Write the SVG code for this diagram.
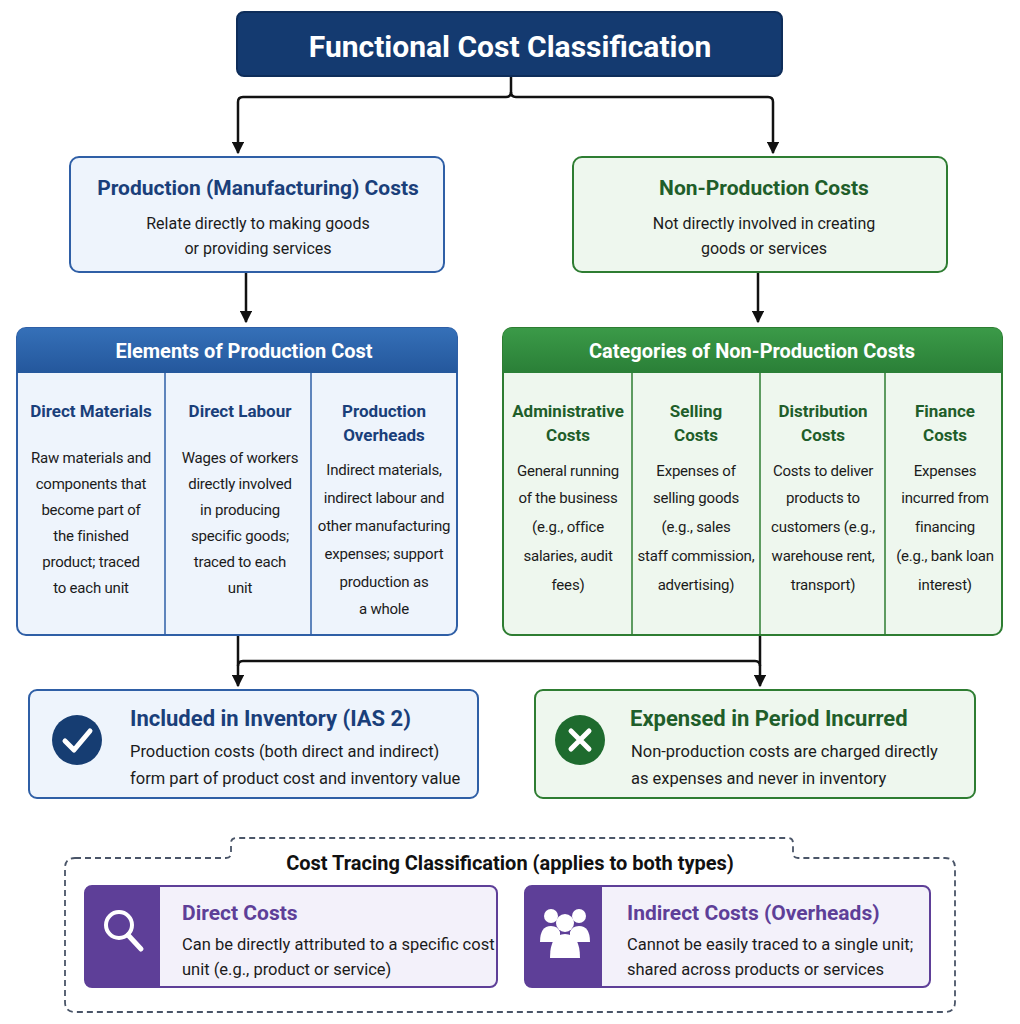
<svg xmlns="http://www.w3.org/2000/svg" width="1020" height="1024" viewBox="0 0 1020 1024">
<defs>
<style>
text{font-family:Roboto,"Liberation Sans",sans-serif;}
.t{font-weight:bold;text-anchor:middle;}
.b{font-size:16px;fill:#1b1b1b;text-anchor:middle;}
.s{font-size:15px;letter-spacing:-0.2px;}
.bl{font-size:16.5px;fill:#1b1b1b;}
.hb{font-size:17px;font-weight:bold;fill:#1a3f7a;text-anchor:middle;}
.hg{font-size:17px;font-weight:bold;fill:#1f5e2a;text-anchor:middle;}
.c{fill:none;stroke:#111;stroke-width:2.5;}
</style>
<marker id="a" viewBox="0 0 10 10" refX="9" refY="5" markerWidth="5" markerHeight="5" orient="auto"><path d="M0,0L10,5L0,10z" fill="#111"/></marker>
<linearGradient id="gb" x1="0" y1="0" x2="0" y2="1"><stop offset="0" stop-color="#3570b8"/><stop offset="1" stop-color="#24579c"/></linearGradient>
<linearGradient id="gg" x1="0" y1="0" x2="0" y2="1"><stop offset="0" stop-color="#3b9a48"/><stop offset="1" stop-color="#2a7f37"/></linearGradient>
</defs>
<rect width="1020" height="1024" fill="#ffffff"/>
<g id="connectors">
<path class="c" d="M511,76V92Q511,97 506,97H243Q238,97 238,102V153" marker-end="url(#a)"/>
<path class="c" d="M511,92Q511,97 516,97H768Q773,97 773,102V153" marker-end="url(#a)"/>
<path class="c" d="M246,272V322" marker-end="url(#a)"/>
<path class="c" d="M758,272V322" marker-end="url(#a)"/>
<path class="c" d="M238,635V686" marker-end="url(#a)"/>
<path class="c" d="M760,635V686" marker-end="url(#a)"/>
<path class="c" d="M238,666Q238,661 243,661H755Q760,661 760,666"/>
</g>
<g id="title">
<rect x="237" y="12" width="545" height="64" rx="7" fill="#143a70" stroke="#0e2d5a" stroke-width="2"/>
<text x="510" y="57" class="t" font-size="30" fill="#fff">Functional Cost Classification</text>
</g>
<g id="production">
<rect x="70" y="157" width="374" height="115" rx="9" fill="#eef4fc" stroke="#2f5fa6" stroke-width="2"/>
<text x="258" y="195" class="t" font-size="21" fill="#1a3f7a">Production (Manufacturing) Costs</text>
<text x="258" y="229" class="b" font-size="17">Relate directly to making goods</text>
<text x="258" y="254" class="b" font-size="17">or providing services</text>
</g>
<g id="nonproduction">
<rect x="573" y="157" width="374" height="115" rx="9" fill="#eef7ee" stroke="#2e7d32" stroke-width="2"/>
<text x="764" y="195" class="t" font-size="21" fill="#1f5e2a">Non-Production Costs</text>
<text x="764" y="229" class="b" font-size="17">Not directly involved in creating</text>
<text x="764" y="254" class="b" font-size="17">goods or services</text>
</g>
<g id="elements">
<rect x="17" y="328" width="440" height="307" rx="9" fill="#eef4fc" stroke="#2f5fa6" stroke-width="2"/>
<path d="M17,373V337Q17,328 26,328H448Q457,328 457,337V373Z" fill="url(#gb)"/>
<text x="244" y="358" class="t" font-size="20" fill="#fff">Elements of Production Cost</text>
<path d="M165,373V635M311,373V635" stroke="#2f5fa6" stroke-width="1.5"/>
<text x="91" y="417" class="hb">Direct Materials</text>
<text x="91" y="463" class="b s">Raw materials and</text>
<text x="91" y="489" class="b s">components that</text>
<text x="91" y="515" class="b s">become part of</text>
<text x="91" y="541" class="b s">the finished</text>
<text x="91" y="567" class="b s">product; traced</text>
<text x="91" y="593" class="b s">to each unit</text>
<text x="240" y="417" class="hb">Direct Labour</text>
<text x="240" y="463" class="b s">Wages of workers</text>
<text x="240" y="489" class="b s">directly involved</text>
<text x="240" y="515" class="b s">in producing</text>
<text x="240" y="541" class="b s">specific goods;</text>
<text x="240" y="567" class="b s">traced to each</text>
<text x="240" y="593" class="b s">unit</text>
<text x="384" y="417" class="hb">Production</text>
<text x="384" y="441" class="hb">Overheads</text>
<text x="384" y="475" class="b s">Indirect materials,</text>
<text x="384" y="503" class="b s">indirect labour and</text>
<text x="384" y="531" class="b s">other manufacturing</text>
<text x="384" y="559" class="b s">expenses; support</text>
<text x="384" y="587" class="b s">production as</text>
<text x="384" y="614" class="b s">a whole</text>
</g>
<g id="categories">
<rect x="503" y="328" width="499" height="307" rx="9" fill="#eef7ee" stroke="#2e7d32" stroke-width="2"/>
<path d="M503,373V337Q503,328 512,328H993Q1002,328 1002,337V373Z" fill="url(#gg)"/>
<text x="752" y="358" class="t" font-size="20" fill="#fff">Categories of Non-Production Costs</text>
<path d="M632,373V635M760,373V635M885,373V635" stroke="#2e7d32" stroke-width="1.5"/>
<text x="568" y="417" class="hg">Administrative</text>
<text x="568" y="441" class="hg">Costs</text>
<text x="568" y="476" class="b s">General running</text>
<text x="568" y="503" class="b s">of the business</text>
<text x="568" y="532" class="b s">(e.g., office</text>
<text x="568" y="561" class="b s">salaries, audit</text>
<text x="568" y="590" class="b s">fees)</text>
<text x="696" y="417" class="hg">Selling</text>
<text x="696" y="441" class="hg">Costs</text>
<text x="696" y="476" class="b s">Expenses of</text>
<text x="696" y="503" class="b s">selling goods</text>
<text x="696" y="532" class="b s">(e.g., sales</text>
<text x="696" y="561" class="b s">staff commission,</text>
<text x="696" y="590" class="b s">advertising)</text>
<text x="823" y="417" class="hg">Distribution</text>
<text x="823" y="441" class="hg">Costs</text>
<text x="823" y="476" class="b s">Costs to deliver</text>
<text x="823" y="503" class="b s">products to</text>
<text x="823" y="532" class="b s">customers (e.g.,</text>
<text x="823" y="561" class="b s">warehouse rent,</text>
<text x="823" y="590" class="b s">transport)</text>
<text x="945" y="417" class="hg">Finance</text>
<text x="945" y="441" class="hg">Costs</text>
<text x="945" y="476" class="b s">Expenses</text>
<text x="945" y="503" class="b s">incurred from</text>
<text x="945" y="532" class="b s">financing</text>
<text x="945" y="561" class="b s">(e.g., bank loan</text>
<text x="945" y="590" class="b s">interest)</text>
</g>
<g id="included">
<rect x="29" y="690" width="449" height="108" rx="8" fill="#eef4fc" stroke="#2f5fa6" stroke-width="2"/>
<circle cx="77" cy="740" r="25" fill="#163d72"/>
<path d="M65,741L74,750L90,731" fill="none" stroke="#fff" stroke-width="5" stroke-linecap="round" stroke-linejoin="round"/>
<text x="130" y="726" font-size="22" font-weight="bold" fill="#1a3f7a">Included in Inventory (IAS 2)</text>
<text x="130" y="757" class="bl">Production costs (both direct and indirect)</text>
<text x="130" y="784" class="bl">form part of product cost and inventory value</text>
</g>
<g id="expensed">
<rect x="535" y="690" width="440" height="108" rx="8" fill="#eef7ee" stroke="#2e7d32" stroke-width="2"/>
<circle cx="580" cy="740" r="25" fill="#1e6b2e"/>
<path d="M571,731L589,749M589,731L571,749" stroke="#fff" stroke-width="5" stroke-linecap="round"/>
<text x="630" y="726" font-size="22" font-weight="bold" fill="#1f5e2a">Expensed in Period Incurred</text>
<text x="631" y="757" class="bl">Non-production costs are charged directly</text>
<text x="631" y="784" class="bl">as expenses and never in inventory</text>
</g>
<g id="tracing">
<path d="M75,858H226Q231,858 231,853V843Q231,838 236,838H788Q793,838 793,843V853Q793,858 798,858H945Q955,858 955,868V1002Q955,1012 945,1012H75Q65,1012 65,1002V868Q65,858 75,858Z" fill="none" stroke="#4a5568" stroke-width="1.8" stroke-dasharray="6,4"/>
<text x="510" y="870" class="t" font-size="20" fill="#111">Cost Tracing Classification (applies to both types)</text>
</g>
<g id="direct">
<rect x="85" y="886" width="412" height="101" rx="7" fill="#f3f1fa" stroke="#5e3f98" stroke-width="2"/>
<path d="M160,886V987H92Q85,987 85,980V893Q85,886 92,886Z" fill="#5e3f98"/>
<circle cx="119" cy="925" r="13" fill="none" stroke="#fff" stroke-width="4"/>
<path d="M128,935L141,949" stroke="#fff" stroke-width="5" stroke-linecap="round"/>
<text x="182" y="920" font-size="21" font-weight="bold" fill="#5e3f98">Direct Costs</text>
<text x="182" y="950" class="bl" font-size="16">Can be directly attributed to a specific cost</text>
<text x="182" y="975" class="bl" font-size="16">unit (e.g., product or service)</text>
</g>
<g id="indirect">
<rect x="525" y="886" width="405" height="101" rx="7" fill="#f3f1fa" stroke="#5e3f98" stroke-width="2"/>
<path d="M602,886V987H532Q525,987 525,980V893Q525,886 532,886Z" fill="#5e3f98"/>
<g fill="#fff">
<circle cx="551" cy="916" r="7"/><circle cx="579" cy="916" r="7"/>
<path d="M540,942Q540,926 551,926Q558,926 560,932L560,942Z"/>
<path d="M590,942Q590,926 579,926Q572,926 570,932L570,942Z"/>
<circle cx="565" cy="923" r="9"/>
<path d="M550,958Q550,934 565,934Q580,934 580,958Z"/>
</g>
<text x="627" y="920" font-size="21" font-weight="bold" fill="#5e3f98">Indirect Costs (Overheads)</text>
<text x="627" y="950" class="bl" font-size="16">Cannot be easily traced to a single unit;</text>
<text x="627" y="975" class="bl" font-size="16">shared across products or services</text>
</g>
</svg>
